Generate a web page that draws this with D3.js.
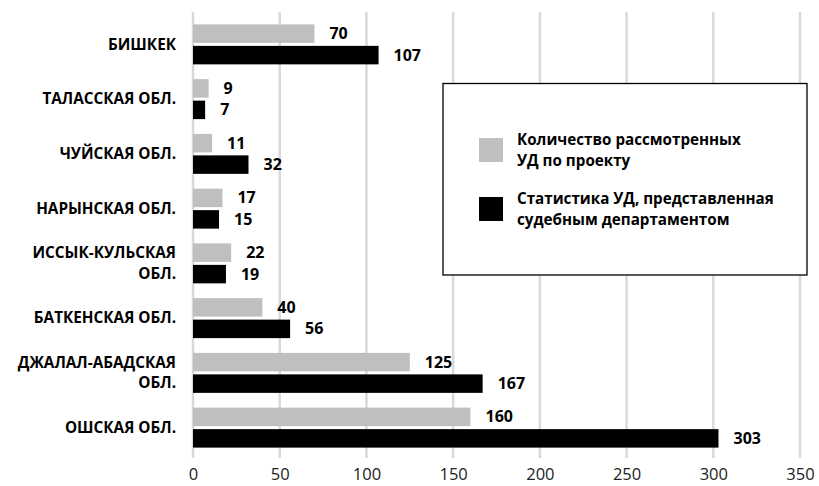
<!DOCTYPE html>
<html>
<head>
<meta charset="utf-8">
<script src="https://cdn.jsdelivr.net/npm/d3@7"></script>
<style>
  body { margin: 0; background: #fff; }
  svg { display: block; font-family: "Open Sans", sans-serif; }
</style>
</head>
<body>
<div id="chart"></div>
<script>
// data
const categories = [
  ['БИШКЕК'],
  ['ТАЛАССКАЯ ОБЛ.'],
  ['ЧУЙСКАЯ ОБЛ.'],
  ['НАРЫНСКАЯ ОБЛ.'],
  ['ИССЫК-КУЛЬСКАЯ', 'ОБЛ.'],
  ['БАТКЕНСКАЯ ОБЛ.'],
  ['ДЖАЛАЛ-АБАДСКАЯ', 'ОБЛ.'],
  ['ОШСКАЯ ОБЛ.']
];
const projectCases = [70, 9, 11, 17, 22, 40, 125, 160];
const courtStats = [107, 7, 32, 15, 19, 56, 167, 303];
const seriesNames = ['Количество рассмотренных|УД по проекту', 'Статистика УД, представленная|судебным департаментом'];
const xTicks = [0, 50, 100, 150, 200, 250, 300, 350];

const W = 819, H = 486;
const colors = ['#bfbfbf', '#000000'];

const svg = d3.select('#chart').append('svg')
  .attr('width', W)
  .attr('height', H);

const xScale = d3.scaleLinear().domain([0, 350]).range([193, 800]);
const yScale = d3.scaleBand()
  .domain(d3.range(categories.length))
  .range([17, 455])
  .paddingInner(0.27)
  .paddingOuter(0.135);
const sub = d3.scaleBand()
  .domain([0, 1])
  .range([0, yScale.bandwidth()])
  .paddingInner(0.14);

// grid lines
svg.append('g')
  .selectAll('line')
  .data(xTicks)
  .enter()
  .append('line')
  .attr('x1', d => xScale(d))
  .attr('x2', d => xScale(d))
  .attr('y1', 12)
  .attr('y2', 458)
  .attr('stroke', '#d9d9d9')
  .attr('stroke-width', 2.5);

// x axis tick labels
const xAxis = d3.axisBottom(xScale).tickValues(xTicks).tickSize(0).tickPadding(0);
const gx = svg.append('g')
  .attr('transform', 'translate(0, 468)')
  .call(xAxis);
gx.select('.domain').remove();
gx.selectAll('text')
  .attr('dy', '0.71em')
  .style('font-size', '16.5px')
  .style('font-family', '"Open Sans", sans-serif')
  .attr('fill', '#222');

// bars
const rows = categories.map((c, i) => ({ i, vals: [projectCases[i], courtStats[i]] }));
const group = svg.append('g')
  .selectAll('g')
  .data(rows)
  .enter()
  .append('g')
  .attr('transform', d => `translate(0, ${yScale(d.i)})`);

group.selectAll('rect')
  .data(d => d.vals.map((v, s) => ({ v, s })))
  .enter()
  .append('rect')
  .attr('x', xScale(0))
  .attr('y', d => sub(d.s))
  .attr('width', d => xScale(d.v) - xScale(0))
  .attr('height', sub.bandwidth())
  .attr('fill', d => colors[d.s]);

group.selectAll('.val')
  .data(d => d.vals.map((v, s) => ({ v, s })))
  .enter()
  .append('text')
  .attr('class', 'val')
  .attr('x', d => xScale(d.v) + 15)
  .attr('y', d => sub(d.s) + sub.bandwidth() / 2)
  .attr('dy', '0.35em')
  .style('font-size', '16px')
  .style('font-weight', 'bold')
  .attr('fill', '#000')
  .text(d => d.v);

// category labels
group.append('text')
  .attr('x', 176)
  .attr('y', yScale.bandwidth() / 2)
  .attr('text-anchor', 'end')
  .style('font-size', '15.3px')
  .style('font-weight', 'bold')
  .attr('fill', '#000')
  .each(function (d) {
    const lines = categories[d.i];
    const t = d3.select(this);
    lines.forEach((l, k) => {
      t.append('tspan')
        .attr('x', 176)
        .attr('dy', k === 0 ? `${0.35 - (lines.length - 1) * 0.67}em` : '1.34em')
        .text(l);
    });
  });

// legend
const legend = svg.append('g').attr('id', 'legend');
legend.append('rect')
  .attr('x', 443)
  .attr('y', 83.5)
  .attr('width', 364)
  .attr('height', 191.5)
  .attr('fill', '#fff')
  .attr('stroke', '#000')
  .attr('stroke-width', 1.3);

seriesNames.forEach((name, s) => {
  const top = 138 + s * 59;
  legend.append('rect')
    .attr('x', 479)
    .attr('y', top)
    .attr('width', 24)
    .attr('height', 24)
    .attr('fill', colors[s]);
  const t = legend.append('text')
    .style('font-size', '15.2px')
    .style('font-weight', 'bold')
    .attr('fill', '#000');
  name.split('|').forEach((l, k) => {
    t.append('tspan')
      .attr('x', 517)
      .attr('y', top + 1.5 + k * 21)
      .attr('dy', '0.35em')
      .text(l);
  });
});
</script>
</body>
</html>
